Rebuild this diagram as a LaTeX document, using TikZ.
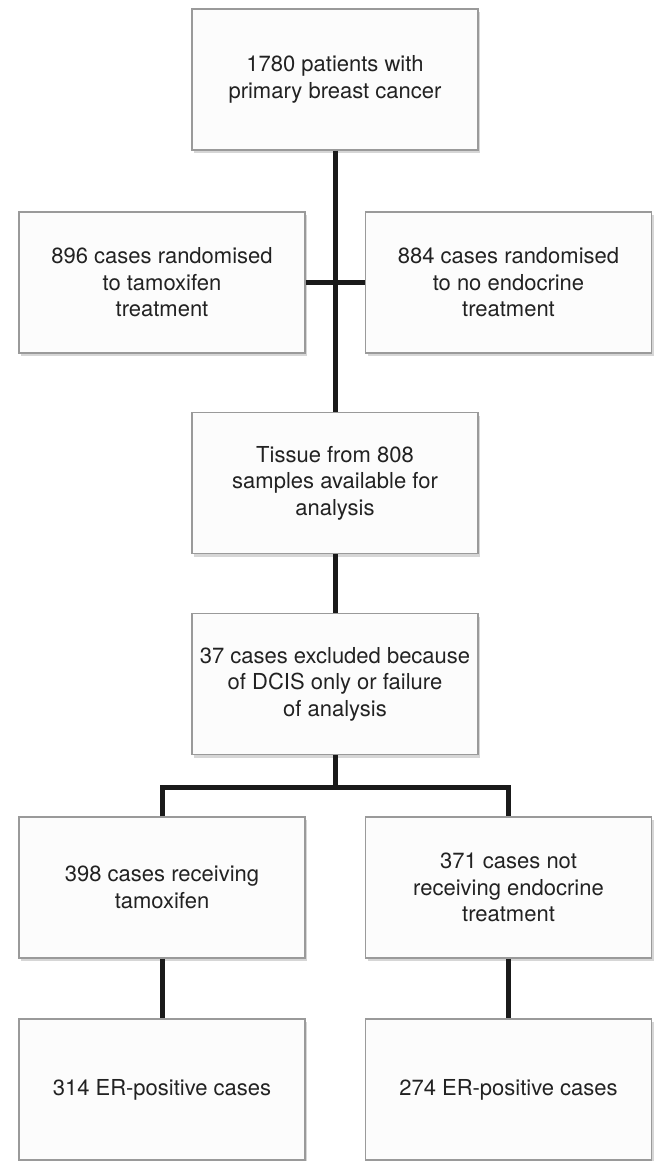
\documentclass[tikz,border=0pt]{standalone}
\usepackage{fontspec}
\setmainfont{TeX Gyre Heros}
\usetikzlibrary{shadows}
\definecolor{boxborder}{HTML}{9A9A9A}
\definecolor{boxfill}{HTML}{FCFCFC}
\definecolor{txt}{HTML}{222222}
\definecolor{conncol}{HTML}{1A1A1A}
\tikzset{
  flowbox/.style={draw=boxborder, line width=1.5pt, fill=boxfill,
    minimum width=286pt, minimum height=141pt, inner sep=0pt,
    align=center, text=txt, font=\fontsize{22}{26.5}\selectfont,
    drop shadow={shadow xshift=2pt, shadow yshift=-3pt, opacity=0.35, fill=black!45}},
  conn/.style={draw=conncol, line width=5pt}
}
\begin{document}
\begin{tikzpicture}[x=1pt, y=-1pt]
\fill[white] (0,0) rectangle (654,1161);
\useasboundingbox (0,0) rectangle (654,1161);

\node[flowbox] (top) at (335,79.5) {1780 patients with\\primary breast cancer};
\node[flowbox] (L2) at (162,282.5) {896 cases randomised\\to tamoxifen\\treatment};
\node[flowbox] (R2) at (508.5,282.5) {884 cases randomised\\to no endocrine\\treatment};
\node[flowbox] (b3) at (335,483) {Tissue from 808\\samples available for\\analysis};
\node[flowbox] (b4) at (335,684) {37 cases excluded because\\of DCIS only or failure\\of analysis};
\node[flowbox] (L5) at (162,887.5) {398 cases receiving\\tamoxifen};
\node[flowbox] (R5) at (508.5,887.5) {371 cases not\\receiving endocrine\\treatment};
\node[flowbox] (L6) at (162,1089.5) {314 ER-positive cases};
\node[flowbox] (R6) at (508.5,1089.5) {274 ER-positive cases};

\coordinate (br) at (335,787);

\draw[conn] (top) -- (b3);
\draw[conn] (L2) -- (R2);
\draw[conn] (b3) -- (b4);
\draw[conn] (b4) -- (br);
\draw[conn] (L5.north) |- (br) -| (R5.north);
\draw[conn] (L5) -- (L6);
\draw[conn] (R5) -- (R6);
\end{tikzpicture}
\end{document}
